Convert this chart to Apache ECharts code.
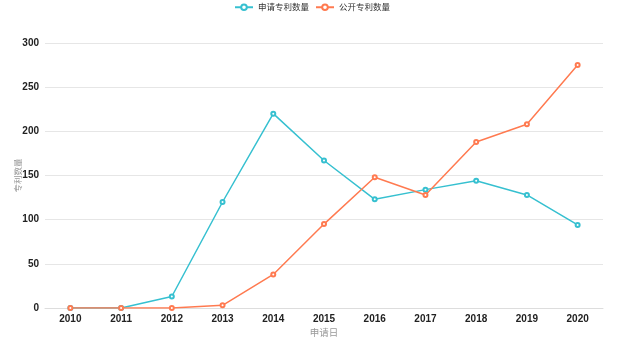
<!DOCTYPE html>
<html><head><meta charset="utf-8">
<script src="https://cdn.jsdelivr.net/npm/echarts@6/dist/echarts.min.js"></script>
<style>html,body{margin:0;padding:0;background:#fff}#c{width:624px;height:351px}</style>
</head><body><div id="c"></div>
<script>
var categories = ['2010','2011','2012','2013','2014','2015','2016','2017','2018','2019','2020'];
var applied = [0, 0, 13, 120, 220, 167, 123, 134, 144, 128, 94];
var published = [0, 0, 0, 3, 38, 95, 148, 128, 188, 208, 275];
var seriesNames = ['申请专利数量', '公开专利数量'];
var chart = echarts.init(document.getElementById('c'));
var font = '"Liberation Sans", "Noto Sans CJK SC", sans-serif';
chart.setOption({
  animation: false,
  color: ['#36c0d0', '#ff7a50'],
  textStyle: {fontFamily: font},
  legend: {top: 3, padding: 0, left: 'center', itemWidth: 18, itemHeight: 7, itemGap: 6,
    textStyle: {fontSize: 8.5, color: '#333', fontFamily: font}, data: seriesNames},
  grid: {left: 45, right: 21, top: 43, bottom: 43, containLabel: false, outerBoundsMode: 'none'},
  xAxis: {type: 'category', data: categories, boundaryGap: true,
    name: '申请日', nameLocation: 'middle', nameGap: 21, nameMoveOverlap: false,
    nameTextStyle: {color: '#999', fontSize: 9.5},
    axisLine: {lineStyle: {color: '#ddd'}}, axisTick: {show: false},
    axisLabel: {color: '#222', fontSize: 10, fontWeight: 'bold', margin: 6}},
  yAxis: {type: 'value', min: 0, max: 300, interval: 50,
    name: '专利数量', nameLocation: 'middle', nameGap: 22, nameMoveOverlap: false,
    nameTextStyle: {color: '#999', fontSize: 8.5},
    axisLine: {show: false}, axisTick: {show: false},
    axisLabel: {color: '#222', fontSize: 10, fontWeight: 'bold', margin: 6},
    splitLine: {lineStyle: {color: '#e6e6e6'}}},
  series: [
    {name: seriesNames[0], type: 'line', data: applied, symbol: 'emptyCircle', symbolSize: 4,
      lineStyle: {width: 1.5}},
    {name: seriesNames[1], type: 'line', data: published, symbol: 'emptyCircle', symbolSize: 4,
      lineStyle: {width: 1.5}}
  ]
});
</script></body></html>
